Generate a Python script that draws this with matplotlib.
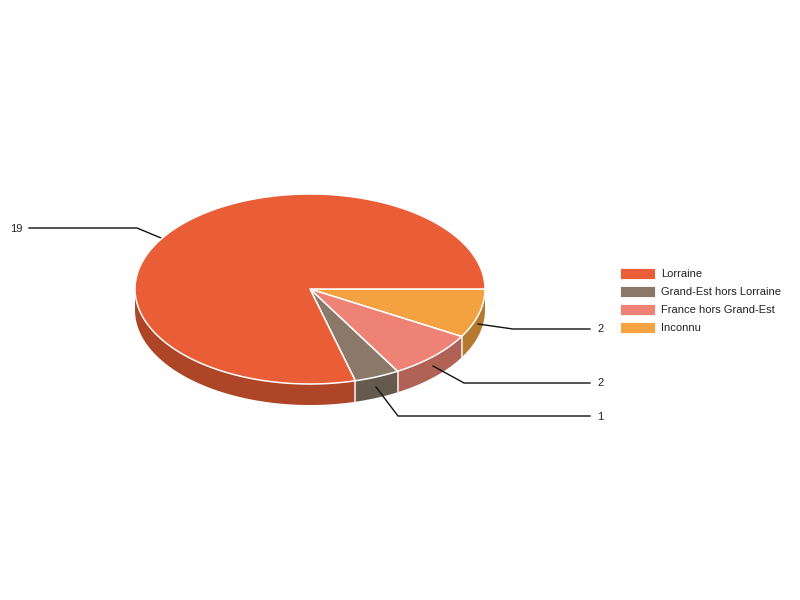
import numpy as np
import matplotlib
matplotlib.use("Agg")
import matplotlib.pyplot as plt

# slices in drawing order, clockwise from 3 o'clock
categories = ["Inconnu", "France hors Grand-Est", "Grand-Est hors Lorraine", "Lorraine"]
values = [2, 2, 1, 19]
legend_order = ["Lorraine", "Grand-Est hors Lorraine", "France hors Grand-Est", "Inconnu"]

top_colors = {"Lorraine": "#E95D37", "Grand-Est hors Lorraine": "#8A7869",
              "France hors Grand-Est": "#EE8274", "Inconnu": "#F4A23F"}
side_colors = {"Lorraine": "#AD4526", "Grand-Est hors Lorraine": "#665A4E",
               "France hors Grand-Est": "#B16257", "Inconnu": "#B57A2F"}

# leader lines, one per slice (pixel positions of the label callouts)
leaders = {
    "Inconnu": ([478, 513, 590], [324, 329, 329]),
    "France hors Grand-Est": ([433, 464, 590], [366, 383, 383]),
    "Grand-Est hors Lorraine": ([376, 398, 590], [387, 416, 416]),
    "Lorraine": ([161, 137, 29], [238, 228, 228]),
}

cx, cy = 310, 289
rx, ry = 175, 95
depth = 21

plt.rcParams['font.family'] = ['Liberation Sans', 'DejaVu Sans']

fig = plt.figure(figsize=(8, 6), dpi=100, facecolor='white')
ax = fig.add_axes([0, 0, 1, 1])
ax.set_xlim(0, 800)
ax.set_ylim(600, 0)
ax.axis('off')

edges = np.radians(np.concatenate([[0], np.cumsum(values)]) / sum(values) * 360)

# side wall first, only the front half (0-180 deg) can be seen
for i, name in enumerate(categories):
    a0, a1 = edges[i], min(edges[i + 1], np.pi)
    if a0 >= np.pi:
        continue
    t = np.linspace(a0, a1, 100)
    xs = cx + rx * np.cos(t)
    ys = cy + ry * np.sin(t)
    ax.fill(np.r_[xs, xs[::-1]], np.r_[ys, ys[::-1] + depth],
            facecolor=side_colors[name], edgecolor='none', zorder=2)
    if i > 0:
        ax.plot([xs[0], xs[0]], [ys[0], ys[0] + depth], color='#F4EFEA', lw=1.1, zorder=3)

# leader lines sit on the walls, under the top face
for name in categories:
    ax.plot(leaders[name][0], leaders[name][1], color='#111111', lw=1.0,
            solid_joinstyle='miter', zorder=4)

# top face
for i, name in enumerate(categories):
    t = np.linspace(edges[i], edges[i + 1], 300)
    xs = np.r_[cx, cx + rx * np.cos(t)]
    ys = np.r_[cy, cy + ry * np.sin(t)]
    ax.fill(xs, ys, facecolor=top_colors[name], edgecolor='white', lw=1.1,
            joinstyle='round', zorder=5)

# value labels
for name, v in zip(categories, values):
    lx, ly = leaders[name]
    if lx[-1] > cx:
        ax.text(597, ly[-1] + 0.5, str(v), ha='left', va='center', fontsize=8, color='#222222', zorder=6)
    else:
        ax.text(22, ly[-1] + 0.5, str(v), ha='right', va='center', fontsize=8, color='#222222', zorder=6)

# legend
for i, name in enumerate(legend_order):
    y = 273 + 18 * i
    ax.fill([620, 655, 655, 620], [y - 5, y - 5, y + 6, y + 6],
            facecolor=top_colors[name], edgecolor='white', lw=0.6, zorder=5)
    ax.text(661, y + 0.8, name, ha='left', va='center', fontsize=8, color='#222222', zorder=6)

fig.savefig('out.png', dpi=100)
